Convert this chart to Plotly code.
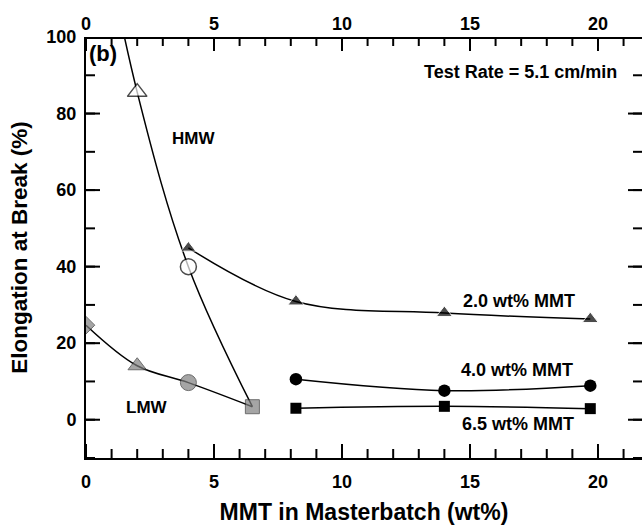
import plotly.graph_objects as go

# ---- data ----
# HMW series (open markers); the x=0 point is off-scale (estimated)
hmw_x = [0, 2, 4, 6.5]
hmw_y = [150, 85.6, 40, 3.4]
# LMW series (grey markers)
lmw_x = [0, 2, 4, 6.5]
lmw_y = [24.7, 14.1, 9.7, 3.4]
# constant-MMT series (black markers)
mmt20_x = [4, 8.2, 14, 19.7]
mmt20_y = [44.9, 30.9, 27.9, 26.3]
mmt40_x = [8.2, 14, 19.7]
mmt40_y = [10.6, 7.6, 8.9]
mmt65_x = [8.2, 14, 19.7]
mmt65_y = [3.0, 3.5, 2.9]

x_ticks = [0, 5, 10, 15, 20]
x_minor_ticks = [0, 1, 2, 3, 4, 5, 6, 7, 8, 9, 10, 11, 12, 13, 14, 15, 16,
                 17, 18, 19, 20, 21]
y_ticks = [0, 20, 40, 60, 80, 100]
y_minor_ticks = [-10, 0, 10, 20, 30, 40, 50, 60, 70, 80, 90, 100]
x_range = [0, 21.72]
y_range = [-10, 100]

FONT = "Liberation Sans, Arial, sans-serif"
GREY = "#808080"
W, H = 642, 525
M = dict(l=86, r=0, t=37, b=67)
MAJOR_LEN, MINOR_LEN = 14, 9  # pixels

# pixel -> data unit conversion from the plot-area size
px_x = (W - M["l"] - M["r"]) / (x_range[1] - x_range[0])
px_y = (H - M["t"] - M["b"]) / (y_range[1] - y_range[0])

fig = go.Figure()

line = dict(color="black", width=1.5, shape="spline", smoothing=1)

# lines first
for xs, ys in [(hmw_x, hmw_y), (lmw_x, lmw_y), (mmt20_x, mmt20_y),
               (mmt40_x, mmt40_y), (mmt65_x, mmt65_y)]:
    fig.add_trace(go.Scatter(x=xs, y=ys, mode="lines", line=line,
                             hoverinfo="skip", showlegend=False))

# inside tick marks (bottom/top/left/right) built from the tick lists
tx, ty = [], []
for vals, ln in [(x_minor_ticks, MINOR_LEN), (x_ticks, MAJOR_LEN)]:
    d = ln / px_y
    for v in vals:
        tx += [v, v, None, v, v, None]
        ty += [y_range[0], y_range[0] + d, None,
               y_range[1], y_range[1] - d, None]
for vals, ln in [(y_minor_ticks, MINOR_LEN), (y_ticks, MAJOR_LEN)]:
    d = ln / px_x
    for v in vals:
        tx += [x_range[0], x_range[0] + d, None,
               x_range[1], x_range[1] - d, None]
        ty += [v, v, None, v, v, None]
fig.add_trace(go.Scatter(x=tx, y=ty, mode="lines",
                         line=dict(color="black", width=2),
                         hoverinfo="skip", showlegend=False))
# top frame edge (half of it is clipped by the plot area)
fig.add_trace(go.Scatter(x=x_range, y=[y_range[1], y_range[1]], mode="lines",
                         line=dict(color="black", width=4),
                         hoverinfo="skip", showlegend=False))

# markers
fig.add_trace(go.Scatter(
    x=lmw_x, y=lmw_y, mode="markers", showlegend=False,
    marker=dict(symbol=["diamond", "triangle-up", "circle", "square"],
                size=[13.5, 16, 16, 14], color=GREY,
                line=dict(color="#303030", width=1))))
fig.add_trace(go.Scatter(
    x=hmw_x[1:3], y=hmw_y[1:3], mode="markers", showlegend=False,
    marker=dict(symbol=["triangle-up", "circle"], size=[17, 16],
                color="white", line=dict(color="black", width=1.5))))
fig.add_trace(go.Scatter(
    x=mmt20_x, y=mmt20_y, mode="markers", showlegend=False,
    marker=dict(symbol="triangle-up", size=[13, 14, 14, 14], color="black")))
fig.add_trace(go.Scatter(
    x=mmt40_x, y=mmt40_y, mode="markers", showlegend=False,
    marker=dict(symbol="circle", size=12.5, color="black")))
fig.add_trace(go.Scatter(
    x=mmt65_x, y=mmt65_y, mode="markers", showlegend=False,
    marker=dict(symbol="square", size=11, color="black")))

# invisible trace to instantiate the top axis (labels)
fig.add_trace(go.Scatter(x=[1], y=[1], xaxis="x2", yaxis="y", mode="markers",
                         marker=dict(opacity=0), showlegend=False,
                         hoverinfo="skip"))

tickfont = dict(family=FONT, size=18, color="black", weight="bold")
base = dict(showgrid=False, zeroline=False, automargin=False, ticks="",
            tickfont=tickfont)

fig.update_layout(
    width=W, height=H,
    margin=M,
    paper_bgcolor="white", plot_bgcolor="white",
    xaxis=dict(**base, range=x_range, tickmode="array", tickvals=x_ticks,
               showline=True, linewidth=2, linecolor="black",
               ticklabelstandoff=6,
               title=dict(text="MMT in Masterbatch (wt%)", standoff=20,
                          font=dict(family=FONT, size=23, color="black",
                                    weight="bold"))),
    xaxis2=dict(**base, range=x_range, tickmode="array", tickvals=x_ticks,
                overlaying="x", side="top", anchor="y", showline=False,
                ticklabelstandoff=2),
    yaxis=dict(**base, range=y_range, tickmode="array", tickvals=y_ticks,
               showline=True, linewidth=2, linecolor="black",
               ticklabelstandoff=4,
               title=dict(text="Elongation at Break (%)", standoff=12,
                          font=dict(family=FONT, size=22.5, color="black",
                                    weight="bold"))),
)

def note(text, x, y, size=18, xanchor="center"):
    fig.add_annotation(x=x, y=y, text=text, showarrow=False, xanchor=xanchor,
                       yanchor="middle",
                       font=dict(family=FONT, size=size, color="black",
                                 weight="bold"))

note("(b)", 0.02, 95.8, size=22, xanchor="left")
note("HMW", 4.2, 73.6, size=17)
note("LMW", 2.4, 3.2, size=17)
note("Test Rate = 5.1 cm/min", 20.82, 90.9, xanchor="right")
note("2.0 wt% MMT", 19.17, 31.1, xanchor="right")
note("4.0 wt% MMT", 19.1, 13.05, xanchor="right")
note("6.5 wt% MMT", 19.15, -1.0, xanchor="right")

fig.write_html("out.html", config={"displayModeBar": False},
               post_script="document.body.style.margin='0';"
                           "document.body.style.overflow='hidden';")
